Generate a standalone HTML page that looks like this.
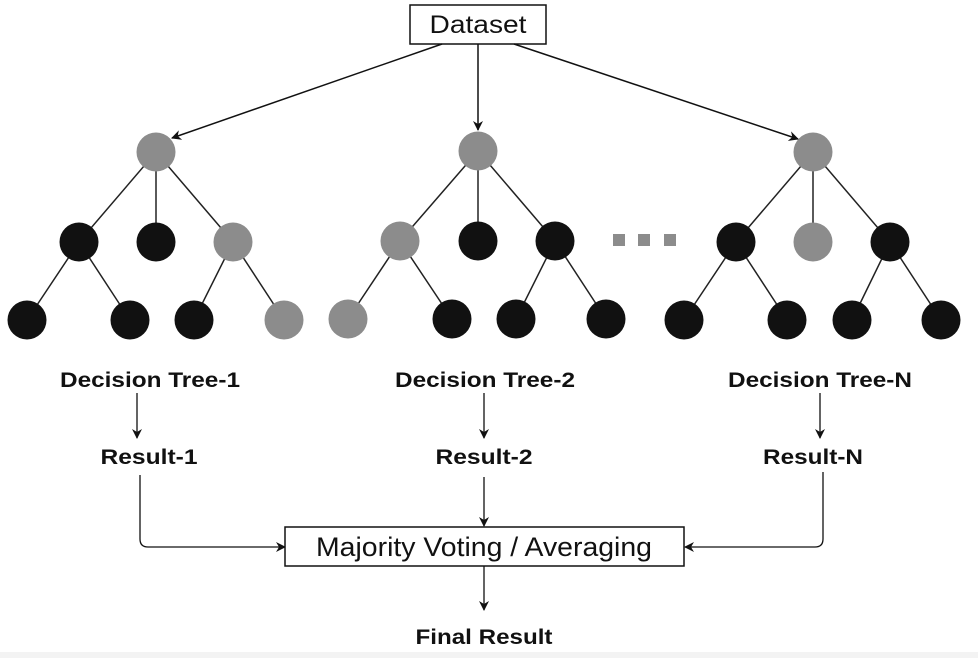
<!DOCTYPE html>
<html><head><meta charset="utf-8"><style>
body{margin:0;background:#fff;}
svg{display:block;font-family:"Liberation Sans",Arial,sans-serif;}
</style></head><body>
<svg id="d" width="978" height="658" viewBox="0 0 978 658">
<defs><marker id="ah" markerWidth="10" markerHeight="10" refX="9" refY="5" orient="auto" markerUnits="userSpaceOnUse"><path d="M0,0 L10,5 L0,10 L3,5 Z" fill="#111"/></marker></defs>
<rect x="0" y="652" width="978" height="6" fill="#f3f3f3"/>
<g>
<rect x="410" y="5" width="136" height="39" fill="#fff" stroke="#111" stroke-width="1.5"/>
<text x="478" y="33" font-size="25" text-anchor="middle" fill="#111" textLength="97" lengthAdjust="spacingAndGlyphs">Dataset</text></g>
<g stroke="#111" stroke-width="1.5" fill="none">
<line x1="442" y1="44" x2="172" y2="138" marker-end="url(#ah)"/>
<line x1="478" y1="44" x2="478" y2="130" marker-end="url(#ah)"/>
<line x1="514" y1="44" x2="798" y2="139" marker-end="url(#ah)"/>
</g>
<g id="trees"></g>
<g fill="#8c8c8c">
<rect x="613" y="234" width="12" height="12"/><rect x="638" y="234" width="12" height="12"/><rect x="664" y="234" width="12" height="12"/></g>
<g font-size="21" font-weight="bold" text-anchor="middle" fill="#111" lengthAdjust="spacingAndGlyphs">
<text x="150" y="387" textLength="180" lengthAdjust="spacingAndGlyphs">Decision Tree-1</text>
<text x="485" y="387" textLength="180" lengthAdjust="spacingAndGlyphs">Decision Tree-2</text>
<text x="820" y="387" textLength="184" lengthAdjust="spacingAndGlyphs">Decision Tree-N</text>
<text x="149" y="464" textLength="97" lengthAdjust="spacingAndGlyphs">Result-1</text>
<text x="484" y="464" textLength="97" lengthAdjust="spacingAndGlyphs">Result-2</text>
<text x="813" y="464" textLength="100" lengthAdjust="spacingAndGlyphs">Result-N</text>
<text x="484" y="644" textLength="137" lengthAdjust="spacingAndGlyphs">Final Result</text>
</g>
<g stroke="#111" stroke-width="1.3" fill="none">
<line x1="137" y1="393" x2="137" y2="438" marker-end="url(#ah)"/>
<line x1="484" y1="393" x2="484" y2="438" marker-end="url(#ah)"/>
<line x1="820" y1="393" x2="820" y2="438" marker-end="url(#ah)"/>
<path d="M140,475 V539 Q140,547 148,547 H285" marker-end="url(#ah)"/>
<path d="M823,472 V539 Q823,547 815,547 H685" marker-end="url(#ah)"/>
<line x1="484" y1="477" x2="484" y2="526" marker-end="url(#ah)"/>
<line x1="484" y1="566" x2="484" y2="610" marker-end="url(#ah)"/>
</g>
<g>
<rect x="285" y="527" width="399" height="39" fill="#fff" stroke="#111" stroke-width="1.5"/>
<text x="484" y="556" font-size="27" text-anchor="middle" fill="#111" textLength="336" lengthAdjust="spacingAndGlyphs">Majority Voting / Averaging</text></g>
</svg>
<script>
const NS="http://www.w3.org/2000/svg";
const G="#8c8c8c",B="#111";
// nodes: [x,y,color,parentIndex]
const trees=[
 [[156,152,G,-1],[79,242,B,0],[156,242,B,0],[233,242,G,0],[27,320,B,1],[130,320,B,1],[194,320,B,3],[284,320,G,3]],
 [[478,151,G,-1],[400,241,G,0],[478,241,B,0],[555,241,B,0],[348,319,G,1],[452,319,B,1],[516,319,B,3],[606,319,B,3]],
 [[813,152,G,-1],[736,242,B,0],[813,242,G,0],[890,242,B,0],[684,320,B,1],[787,320,B,1],[852,320,B,3],[941,320,B,3]]
];
const root=document.getElementById('trees');
trees.forEach((t,ti)=>{
 const g=document.createElementNS(NS,'g');
 
 
 t.forEach(n=>{ if(n[3]>=0){const p=t[n[3]];const l=document.createElementNS(NS,'line');
  l.setAttribute('x1',p[0]);l.setAttribute('y1',p[1]);l.setAttribute('x2',n[0]);l.setAttribute('y2',n[1]);
  l.setAttribute('stroke','#222');l.setAttribute('stroke-width','1.5');
  
  
  g.appendChild(l);}});
 t.forEach(n=>{const c=document.createElementNS(NS,'circle');
  c.setAttribute('cx',n[0]);c.setAttribute('cy',n[1]);c.setAttribute('r',19.5);c.setAttribute('fill',n[2]);
  
  
  g.appendChild(c);});
 root.appendChild(g);
});
</script>
</body></html>
